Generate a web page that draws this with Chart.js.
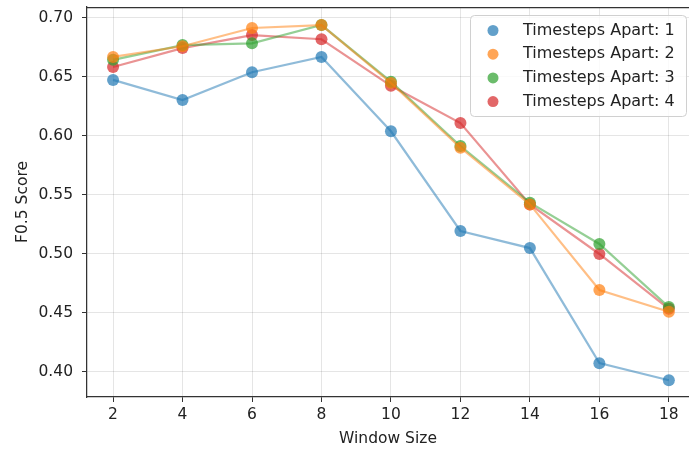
<!DOCTYPE html>
<html>
<head>
<meta charset="utf-8">
<script src="https://cdn.jsdelivr.net/npm/chart.js@4.4.1/dist/chart.umd.min.js"></script>
<style>
  html, body { margin: 0; padding: 0; background: #fff; }
  #wrap { width: 689px; height: 450px; }
</style>
</head>
<body>
<div id="wrap"><canvas id="c" width="689" height="450"></canvas></div>
<script>
// Window sizes evaluated
const windowSizes = [2, 4, 6, 8, 10, 12, 14, 16, 18];

// F0.5 scores per "timesteps apart" setting
const apart1 = [0.6475, 0.6305, 0.654, 0.667, 0.604, 0.5195, 0.505, 0.4075, 0.393];
const apart2 = [0.667, 0.676, 0.6915, 0.694, 0.645, 0.590, 0.542, 0.4695, 0.451];
const apart3 = [0.6645, 0.677, 0.6785, 0.694, 0.646, 0.5915, 0.5435, 0.5085, 0.455];
const apart4 = [0.6585, 0.6745, 0.6855, 0.682, 0.6425, 0.611, 0.542, 0.500, 0.4535];

const seriesLabels = ['Timesteps Apart: 1', 'Timesteps Apart: 2', 'Timesteps Apart: 3', 'Timesteps Apart: 4'];
const seriesValues = [apart1, apart2, apart3, apart4];
const seriesColors = ['31,119,180', '255,127,14', '44,160,44', '214,39,40'];

const xTicks = [2, 4, 6, 8, 10, 12, 14, 16, 18];
const yTicks = [0.40, 0.45, 0.50, 0.55, 0.60, 0.65, 0.70];

const FONT = "'DejaVu Sans', sans-serif";
const TICK_SIZE = 15.5;

const datasets = seriesValues.map((vals, i) => ({
  label: seriesLabels[i],
  data: vals.map((v, j) => ({ x: windowSizes[j], y: v })),
  borderColor: `rgba(${seriesColors[i]},0.5)`,
  borderWidth: 2.2,
  pointBackgroundColor: `rgba(${seriesColors[i]},0.7)`,
  pointBorderColor: `rgba(${seriesColors[i]},0.0)`,
  pointBorderWidth: 0,
  pointRadius: 6,
  tension: 0,
  fill: false
}));

// Top spine and an in-axes legend box
const framePlugin = {
  id: 'frameAndLegend',
  afterDraw(chart) {
    const ctx = chart.ctx;
    const a = chart.chartArea;
    ctx.save();
    ctx.strokeStyle = '#333';
    ctx.lineWidth = 1.25;
    ctx.beginPath();
    ctx.moveTo(a.left, a.top + 0.5);
    ctx.lineTo(a.right, a.top + 0.5);
    ctx.stroke();

    // legend box
    const bx = 470.5, by = 15.5, bw = 216, bh = 101, r = 4;
    ctx.beginPath();
    ctx.moveTo(bx + r, by);
    ctx.lineTo(bx + bw - r, by);
    ctx.quadraticCurveTo(bx + bw, by, bx + bw, by + r);
    ctx.lineTo(bx + bw, by + bh - r);
    ctx.quadraticCurveTo(bx + bw, by + bh, bx + bw - r, by + bh);
    ctx.lineTo(bx + r, by + bh);
    ctx.quadraticCurveTo(bx, by + bh, bx, by + bh - r);
    ctx.lineTo(bx, by + r);
    ctx.quadraticCurveTo(bx, by, bx + r, by);
    ctx.closePath();
    ctx.fillStyle = 'rgba(255,255,255,0.8)';
    ctx.fill();
    ctx.strokeStyle = '#d0d0d0';
    ctx.lineWidth = 1;
    ctx.stroke();

    ctx.font = `16px ${FONT}`;
    ctx.textBaseline = 'middle';
    ctx.textAlign = 'left';
    chart.data.datasets.forEach((ds, i) => {
      const cy = 30.5 + i * 23.7;
      ctx.beginPath();
      ctx.arc(493, cy, 5.5, 0, Math.PI * 2);
      ctx.fillStyle = ds.pointBackgroundColor;
      ctx.fill();
      ctx.fillStyle = '#222';
      ctx.fillText(ds.label, 523, cy);
    });
    ctx.restore();
  }
};

new Chart(document.getElementById('c'), {
  type: 'line',
  data: { datasets },
  plugins: [framePlugin],
  options: {
    responsive: false,
    animation: false,
    layout: { autoPadding: false, padding: { left: 0, right: 0, top: 7, bottom: 0 } },
    plugins: { legend: { display: false }, tooltip: { enabled: false } },
    scales: {
      x: {
        type: 'linear',
        min: 1.25,
        max: 18.58,
        afterBuildTicks: (s) => { s.ticks = xTicks.map(v => ({ value: v })); },
        afterFit: (s) => { s.height = 53; s.paddingLeft = 0; s.paddingRight = 0; },
        ticks: {
          color: '#222',
          font: { family: FONT, size: TICK_SIZE },
          padding: 4,
          callback: (v) => String(v),
          maxRotation: 0,
          autoSkip: false
        },
        grid: { color: 'rgba(0,0,0,0.1)', lineWidth: 1, tickLength: 5, tickColor: '#333', tickWidth: 1 },
        border: { color: '#333', width: 1.25 },
        title: {
          display: true,
          text: 'Window Size',
          color: '#222',
          font: { family: FONT, size: TICK_SIZE },
          padding: { top: 0, bottom: 2 }
        }
      },
      y: {
        type: 'linear',
        min: 0.3788,
        max: 0.7093,
        afterBuildTicks: (s) => { s.ticks = yTicks.map(v => ({ value: v })); },
        afterFit: (s) => { s.width = 87; s.paddingTop = 0; s.paddingBottom = 0; },
        ticks: {
          color: '#222',
          font: { family: FONT, size: TICK_SIZE },
          padding: 9,
          callback: (v) => Number(v).toFixed(2)
        },
        grid: { color: 'rgba(0,0,0,0.1)', lineWidth: 1, tickLength: 5, tickColor: '#333', tickWidth: 1 },
        border: { color: '#333', width: 1.25 },
        title: {
          display: true,
          text: 'F0.5 Score',
          color: '#222',
          font: { family: FONT, size: TICK_SIZE },
          padding: { top: 14, bottom: 0 }
        }
      }
    }
  }
});
</script>
</body>
</html>
